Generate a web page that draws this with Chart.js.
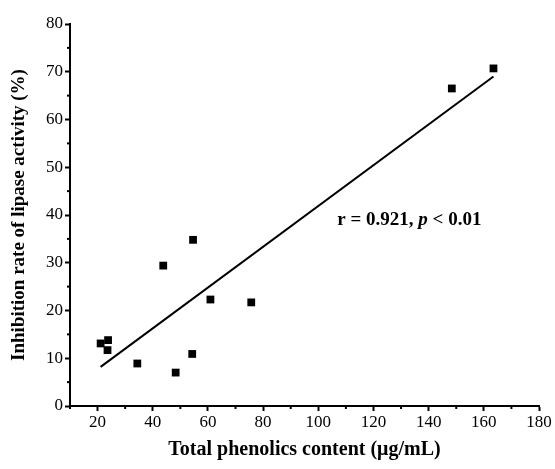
<!DOCTYPE html>
<html>
<head>
<meta charset="utf-8">
<script src="https://cdn.jsdelivr.net/npm/chart.js@4/dist/chart.umd.min.js"></script>
<style>
  html, body { margin: 0; padding: 0; background: #fff; }
  #wrap { width: 555px; height: 469px; }
</style>
</head>
<body>
<div id="wrap"><canvas id="myChart"></canvas></div>
<script>
// values
var phenolics = [21.1, 23.8, 23.6, 34.4, 43.8, 48.3, 54.6, 54.3, 60.9, 75.7, 148.4, 163.5];
var inhibition = [13.1, 13.8, 11.7, 8.9, 29.4, 7.0, 34.8, 10.9, 22.3, 21.7, 66.5, 70.7];
// ends of the fitted line, as drawn
var fitX = [21.1, 163.5];
var fitY = [8.2, 69.0];
var xTicks = [20, 40, 60, 80, 100, 120, 140, 160, 180];
var yTicks = [0, 10, 20, 30, 40, 50, 60, 70, 80];
var note = ['r = 0.921, ', 'p', ' < 0.01'];
var notePos = [133, 39];

var serif = "'Liberation Serif', 'Times New Roman', serif";

var points = phenolics.map(function (x, i) { return { x: x, y: inhibition[i] }; });
var fitLine = fitX.map(function (x, i) { return { x: x, y: fitY[i] }; });

function isMajor(scale, v) {
  var list = scale.axis === 'x' ? xTicks : yTicks;
  return list.indexOf(v) !== -1;
}

// short minor ticks + the r/p note
var extras = {
  id: 'extras',
  afterDraw: function (chart) {
    var c = chart.ctx;
    var xs = chart.scales.x, ys = chart.scales.y;
    c.save();
    c.strokeStyle = '#000';
    c.lineWidth = 2;
    xs.ticks.forEach(function (t) {
      if (isMajor(xs, t.value)) return;
      var px = xs.getPixelForValue(t.value);
      c.beginPath();
      c.moveTo(px, xs.top);
      c.lineTo(px, xs.top + 3);
      c.stroke();
    });
    ys.ticks.forEach(function (t) {
      if (isMajor(ys, t.value)) return;
      var py = ys.getPixelForValue(t.value);
      c.beginPath();
      c.moveTo(ys.right, py);
      c.lineTo(ys.right - 3, py);
      c.stroke();
    });

    var bold = 'bold 19px ' + serif;
    var ital = 'italic bold 19px ' + serif;
    c.font = bold;
    var w0 = c.measureText(note[0]).width;
    var w2 = c.measureText(note[2]).width;
    c.font = ital;
    var w1 = c.measureText(note[1]).width;
    var cx = xs.getPixelForValue(notePos[0]);
    var cy = ys.getPixelForValue(notePos[1]);
    var x0 = cx - (w0 + w1 + w2) / 2;
    c.fillStyle = '#000';
    c.textBaseline = 'middle';
    c.textAlign = 'left';
    c.font = bold;
    c.fillText(note[0], x0, cy);
    c.font = ital;
    c.fillText(note[1], x0 + w0, cy);
    c.font = bold;
    c.fillText(note[2], x0 + w0 + w1, cy);
    c.restore();
  }
};

var ctx = document.getElementById('myChart').getContext('2d');
var myChart = new Chart(ctx, {
  type: 'scatter',
  data: {
    datasets: [{
      data: points,
      pointStyle: 'rect',
      pointRadius: 5.5,
      pointHoverRadius: 5.5,
      backgroundColor: '#000',
      borderColor: '#000',
      borderWidth: 0,
      order: 1
    }, {
      type: 'line',
      data: fitLine,
      borderColor: '#000',
      borderWidth: 2,
      pointRadius: 0,
      fill: false,
      order: 2
    }]
  },
  options: {
    responsive: true,
    maintainAspectRatio: false,
    animation: false,
    layout: { padding: { top: 24, right: 16, left: 0, bottom: 0 } },
    plugins: { legend: { display: false }, tooltip: { enabled: false } },
    scales: {
      x: {
        type: 'linear',
        min: 10,
        max: 180,
        afterFit: function (s) { s.height = 63; },
        border: { color: '#000', width: 2 },
        grid: {
          drawOnChartArea: false,
          tickLength: 5,
          tickWidth: 2,
          tickColor: function (c) { return c.tick && xTicks.indexOf(c.tick.value) !== -1 ? '#000' : 'rgba(0,0,0,0)'; }
        },
        ticks: {
          stepSize: 10,
          autoSkip: false,
          maxRotation: 0,
          padding: 1,
          color: '#000',
          font: { family: serif, size: 17 },
          callback: function (v) { return xTicks.indexOf(v) !== -1 ? v : ''; }
        },
        title: {
          display: true,
          text: 'Total phenolics content (\u03bcg/mL)',
          color: '#000',
          font: { family: serif, size: 20, weight: 'bold' },
          padding: { top: 0, bottom: 7 }
        }
      },
      y: {
        type: 'linear',
        min: 0,
        max: 80,
        afterFit: function (s) { s.width = 70; },
        border: { color: '#000', width: 2 },
        grid: {
          drawOnChartArea: false,
          tickLength: 5,
          tickWidth: 2,
          tickColor: function (c) { return c.tick && yTicks.indexOf(c.tick.value) !== -1 ? '#000' : 'rgba(0,0,0,0)'; }
        },
        ticks: {
          stepSize: 5,
          autoSkip: false,
          padding: 2,
          color: '#000',
          font: { family: serif, size: 17 },
          callback: function (v) { return yTicks.indexOf(v) !== -1 ? v : ''; }
        },
        title: {
          display: true,
          text: 'Inhibition rate of lipase activity (%)',
          color: '#000',
          font: { family: serif, size: 19, weight: 'bold' },
          padding: { top: 8, bottom: 0 }
        }
      }
    }
  },
  plugins: [extras]
});
</script>
</body>
</html>
